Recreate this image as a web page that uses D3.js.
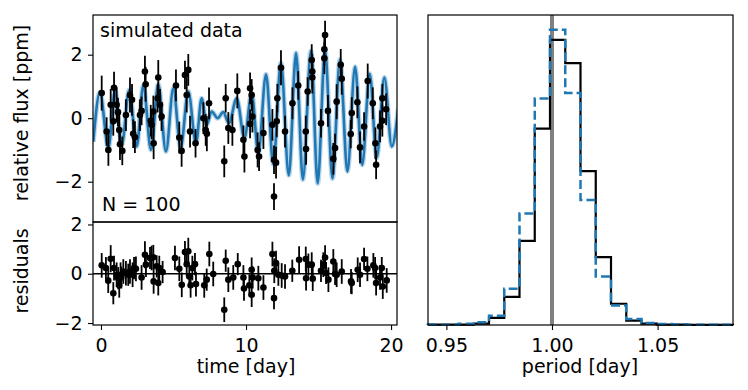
<!DOCTYPE html>
<html>
<head>
<meta charset="utf-8">
<script src="https://cdn.jsdelivr.net/npm/d3@7"></script>
<style>
  body { margin: 0; background: #fff; }
  svg { font-family: "DejaVu Sans", sans-serif; }
</style>
</head>
<body>
<svg id="chart" width="748" height="390"></svg>
<script>
// observed light curve (top panel)
const fluxTime = [0.05,0.39,0.51,0.67,0.85,0.90,1.08,1.17,1.26,1.31,
  1.47,1.72,2.00,2.14,2.22,2.34,2.69,2.80,3.03,3.08,
  3.43,3.49,3.61,3.63,3.91,3.95,4.07,4.18,5.17,5.40,
  5.56,5.79,5.91,6.02,6.14,6.52,7.06,7.22,7.30,7.45,
  8.50,8.60,8.78,9.06,9.40,9.82,9.89,10.28,10.28,10.39,
  10.44,10.80,10.90,11.20,11.82,11.93,11.93,12.07,12.12,12.16,
  12.41,12.69,13.20,13.60,14.12,14.14,14.25,14.53,14.57,14.57,
  15.17,15.40,15.40,15.45,15.65,16.02,16.14,16.25,16.53,16.60,
  17.22,17.29,17.68,17.86,18.14,18.39,18.74,18.92,18.97,19.24,
  19.40,19.40,19.66];
const fluxValue = [0.79,-0.42,-1.00,0.42,-0.10,0.96,0.42,0.19,-0.37,-0.82,
  -1.03,0.10,0.73,0.58,-0.49,-0.60,0.10,0.23,1.47,1.07,
  -0.08,-0.21,0.21,-0.79,0.63,1.28,0.42,0.05,1.03,-0.61,
  -1.03,1.36,0.73,1.52,-0.42,-0.79,0.00,-0.37,-0.49,0.47,
  -1.36,0.63,-0.31,-0.37,0.86,-0.68,-1.21,0.94,-0.18,0.73,
  0.05,-1.00,-1.21,-0.47,-0.21,-1.31,-2.47,-1.40,-0.10,0.63,
  1.59,-0.42,0.47,1.03,-0.42,-0.97,0.84,1.83,1.47,1.28,
  -0.16,1.89,2.17,2.62,0.23,-1.28,-0.94,0.52,1.68,1.24,
  -0.50,0.16,0.50,-0.92,-0.26,1.17,0.47,-0.79,-1.47,-0.26,
  -0.08,0.63,0.28];
const fluxErr = [0.55,0.45,0.5,0.5,0.45,0.5,0.55,0.45,0.5,0.5,
  0.45,0.5,0.55,0.5,0.45,0.5,0.5,0.45,0.5,0.55,
  0.5,0.45,0.5,0.5,0.45,0.55,0.5,0.45,0.5,0.5,
  0.5,0.45,0.55,0.5,0.5,0.45,0.5,0.5,0.55,0.5,
  0.5,0.45,0.5,0.5,0.55,0.45,0.5,0.5,0.45,0.5,
  0.5,0.55,0.45,0.5,0.5,0.45,0.42,0.5,0.5,0.45,
  0.55,0.5,0.5,0.45,0.5,0.5,0.45,0.5,0.55,0.5,
  0.45,0.5,0.5,0.45,0.5,0.5,0.45,0.55,0.5,0.5,
  0.45,0.5,0.5,0.5,0.45,0.55,0.5,0.5,0.45,0.5,
  0.5,0.45,0.5];

// GP prediction, read at its turning points
const modelTime = [-0.53,-0.07,0.51,0.97,1.43,1.95,2.46,2.92,3.45,3.95,
  4.48,4.99,5.49,6.02,6.55,6.94,7.29,7.63,8.05,8.43,
  8.82,9.36,9.89,10.39,10.85,11.38,11.88,12.41,12.95,13.45,
  13.92,14.48,14.94,15.45,15.96,16.48,16.99,17.52,18.01,18.53,
  19.01,19.54,20.05,20.50];
const modelFlux = [-0.74,0.82,-0.94,0.89,-0.84,0.89,-0.89,1.03,-1.00,1.07,
  -1.05,0.94,-0.94,0.84,-0.79,0.63,-0.21,0.21,0.00,0.19,
  -0.16,0.63,-0.63,0.79,-1.10,1.38,-1.45,1.75,-1.80,2.05,
  -1.93,2.12,-2.05,2.15,-1.90,1.85,-1.68,1.62,-1.47,1.40,
  -1.25,1.28,-0.89,0.31];

// residuals (bottom panel)
const residTime = [0.05,0.34,0.50,0.67,0.85,0.90,1.08,1.19,1.26,1.35,
  1.40,1.54,1.72,1.88,2.00,2.18,2.28,2.41,2.80,3.03,
  3.10,3.38,3.49,3.61,3.63,3.84,3.95,4.02,4.25,5.10,
  5.40,5.57,5.79,5.91,6.02,6.09,6.18,6.30,6.48,6.55,
  7.12,7.29,7.47,7.74,8.50,8.60,8.78,9.12,9.43,9.82,
  9.86,10.23,10.39,10.39,10.46,10.85,11.20,11.82,11.93,11.95,
  12.07,12.23,12.46,12.69,13.19,13.66,14.12,14.14,14.30,14.53,
  14.60,15.17,15.33,15.45,15.52,15.68,16.02,16.14,16.25,16.60,
  17.24,17.29,17.70,17.86,18.14,18.37,18.78,18.90,18.97,19.24,
  19.36,19.43,19.70];
const residValue = [0.34,0.23,-0.28,0.61,-0.79,0.23,-0.04,-0.18,-0.47,-0.04,
  -0.15,0.09,0.02,-0.04,0.09,-0.04,0.23,0.20,-0.15,0.77,
  0.37,0.64,0.64,0.67,-0.31,0.30,-0.38,0.23,0.07,0.64,
  0.20,-0.45,0.88,0.39,0.91,-0.11,-0.47,0.23,0.39,-0.42,
  -0.47,-0.24,0.80,-0.01,-1.46,0.53,-0.24,-0.15,0.39,-0.15,
  -0.60,-0.47,-0.85,0.16,-0.15,-0.18,-0.56,0.80,-0.99,0.12,
  0.43,-0.04,-0.07,-0.11,0.12,0.57,0.60,-0.18,0.37,0.37,
  -0.20,0.12,0.37,0.66,0.03,-0.24,0.50,-0.01,-0.04,0.09,
  -0.31,-0.38,0.16,-0.04,0.60,0.20,0.34,0.23,-0.38,-0.15,
  0.23,-0.52,-0.27];
const residErr = [0.5,0.45,0.5,0.55,0.45,0.5,0.5,0.45,0.5,0.5,
  0.45,0.5,0.5,0.45,0.5,0.5,0.45,0.5,0.5,0.55,
  0.5,0.45,0.5,0.5,0.5,0.45,0.5,0.5,0.45,0.5,
  0.5,0.5,0.45,0.5,0.55,0.45,0.5,0.5,0.45,0.5,
  0.5,0.45,0.5,0.5,0.5,0.45,0.5,0.5,0.45,0.5,
  0.5,0.45,0.5,0.5,0.45,0.5,0.5,0.5,0.45,0.5,
  0.5,0.45,0.5,0.5,0.45,0.55,0.5,0.5,0.45,0.5,
  0.5,0.45,0.5,0.5,0.45,0.5,0.5,0.45,0.5,0.5,
  0.5,0.45,0.5,0.5,0.45,0.5,0.5,0.45,0.5,0.5,
  0.45,0.5,0.5];

// period posterior histograms, 20 equal bins between periodMin and periodMax
const periodMin = 0.9413;
const periodMax = 1.0857;
const histSolid = [0.1,0.1,0.1,0.45,2.4,9.5,28.5,66.5,96.6,88.7,
  52.1,23.0,7.2,1.5,0.45,0.1,0.1,0.05,0.05,0.05];
const histDashed = [0.1,0.1,0.45,0.9,3.1,12.3,37.8,76.7,100,78.6,
  42.3,16.4,6.6,2.0,0.7,0.3,0.2,0.1,0.1,0.05];
const truePeriod = 1.0;

const timeTicks = [0, 10, 20];
const fluxTicks = [-2, 0, 2];
const residTicks = [-2, 0, 2];
const periodTicks = [0.95, 1.00, 1.05];

const blue = '#1f77b4';
const svg = d3.select('#chart');

// scales
const x = d3.scaleLinear().domain([-0.55, 20.41]).range([93, 397]);
const yFlux = d3.scaleLinear().domain([-3.27, 3.25]).range([222, 15]);
const yRes = d3.scaleLinear().domain([-2.08, 2.1]).range([325, 222]);
const xP = d3.scaleLinear().domain([periodMin, periodMax]).range([428, 733]);
const yH = d3.scaleLinear().domain([0, 105]).range([325, 15]);

svg.append('clipPath').attr('id', 'clipTop')
  .append('rect').attr('x', 93).attr('y', 15).attr('width', 304).attr('height', 207);

// top panel: model
const modelLine = d3.line()
  .x((d, i) => x(modelTime[i]))
  .y(d => yFlux(d))
  .curve(d3.curveMonotoneX);
const topG = svg.append('g').attr('clip-path', 'url(#clipTop)');
topG.append('path').attr('d', modelLine(modelFlux))
  .attr('fill', 'none').attr('stroke', blue).attr('stroke-opacity', 0.3).attr('stroke-width', 5);
topG.append('path').attr('d', modelLine(modelFlux))
  .attr('fill', 'none').attr('stroke', blue).attr('stroke-width', 2.6);

function drawPoints(g, ts, vs, es, ys) {
  g.selectAll('line.err').data(vs).enter().append('line')
    .attr('class', 'err')
    .attr('x1', (d, i) => x(ts[i])).attr('x2', (d, i) => x(ts[i]))
    .attr('y1', (d, i) => ys(d - es[i])).attr('y2', (d, i) => ys(d + es[i]))
    .attr('stroke', '#000').attr('stroke-width', 1.8);
  g.selectAll('circle').data(vs).enter().append('circle')
    .attr('cx', (d, i) => x(ts[i])).attr('cy', d => ys(d))
    .attr('r', 3.3).attr('fill', '#000');
}
drawPoints(topG, fluxTime, fluxValue, fluxErr, yFlux);

// bottom panel: residuals
const botG = svg.append('g');
botG.append('line').attr('x1', 93).attr('x2', 397)
  .attr('y1', yRes(0)).attr('y2', yRes(0))
  .attr('stroke', '#000').attr('stroke-width', 1.3);
drawPoints(botG, residTime, residValue, residErr, yRes);

// right panel: histograms
const nBins = histSolid.length;
const edges = d3.range(nBins + 1).map(i => periodMin + i * (periodMax - periodMin) / nBins);
function stepPoints(h) {
  const pts = [[edges[0], 0]];
  h.forEach((v, i) => { pts.push([edges[i], v]); pts.push([edges[i + 1], v]); });
  pts.push([edges[nBins], 0]);
  return pts;
}
const stepLine = d3.line().x(d => xP(d[0])).y(d => yH(d[1]));

svg.append('line').attr('x1', xP(truePeriod)).attr('x2', xP(truePeriod))
  .attr('y1', 15).attr('y2', 325)
  .attr('stroke', '#808080').attr('stroke-width', 4);
svg.append('path').attr('d', stepLine(stepPoints(histSolid)))
  .attr('fill', 'none').attr('stroke', '#000').attr('stroke-width', 2.2);
svg.append('path').attr('d', stepLine(stepPoints(histDashed)))
  .attr('fill', 'none').attr('stroke', blue).attr('stroke-width', 2.5)
  .attr('stroke-dasharray', '9,4');

// axes
const intFmt = d3.format('d');
function style(g) {
  g.select('.domain').remove();
  g.selectAll('.tick line').attr('stroke', '#000').attr('stroke-width', 1.1);
  g.selectAll('.tick text').attr('font-size', 19).attr('fill', '#000')
    .attr('font-family', '"DejaVu Sans", sans-serif');
}
svg.append('g').attr('transform', 'translate(93,0)')
  .call(d3.axisLeft(yFlux).tickValues(fluxTicks).tickFormat(intFmt).tickSize(5).tickPadding(5.5))
  .call(style);
svg.append('g').attr('transform', 'translate(93,0)')
  .call(d3.axisLeft(yRes).tickValues(residTicks).tickFormat(intFmt).tickSize(5).tickPadding(5.5))
  .call(style);
svg.append('g').attr('transform', 'translate(0,325)')
  .call(d3.axisBottom(x).tickValues(timeTicks).tickFormat(intFmt).tickSize(5).tickPadding(9))
  .call(style);
svg.append('g').attr('transform', 'translate(0,325)')
  .call(d3.axisBottom(xP).tickValues(periodTicks).tickFormat(d3.format('.2f')).tickSize(5).tickPadding(9))
  .call(style);

// frames
[[93, 15, 304, 207], [93, 222, 304, 103], [428, 15, 305, 310]].forEach(r => {
  svg.append('rect').attr('x', r[0]).attr('y', r[1]).attr('width', r[2]).attr('height', r[3])
    .attr('fill', 'none').attr('stroke', '#000').attr('stroke-width', 1.2);
});

// texts
const txt = (s, px, py, anchor, rot) => {
  const t = svg.append('text').text(s).attr('font-size', 19).attr('fill', '#000')
    .attr('text-anchor', anchor || 'start');
  if (rot) t.attr('transform', `translate(${px},${py}) rotate(-90)`);
  else t.attr('x', px).attr('y', py);
  return t;
};
txt('simulated data', 100, 37);
txt('N = 100', 102, 211);
txt('relative flux [ppm]', 28, 113, 'middle', true);
txt('residuals', 28, 271, 'middle', true);
txt('time [day]', 246, 373, 'middle');
txt('period [day]', 580, 373, 'middle');
</script>
</body>
</html>
